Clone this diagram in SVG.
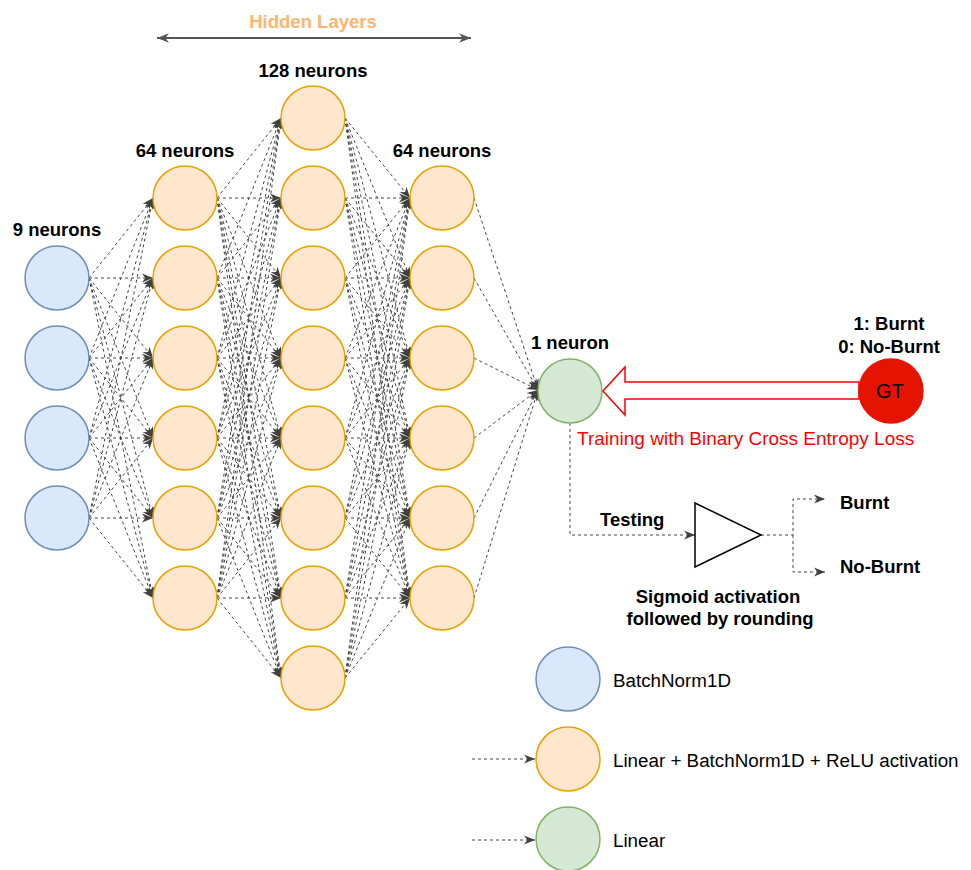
<svg xmlns="http://www.w3.org/2000/svg" width="971" height="870" viewBox="0 0 971 870">
<style>
text{font-family:"Liberation Sans",Arial,sans-serif;fill:#000}
.b{font-weight:bold;font-size:18.5px}
.n{font-size:18.8px}
.m{text-anchor:middle}
.blue{fill:#dae8fc;stroke:#6c8ebf;stroke-width:1.5}
.org{fill:#ffe6cc;stroke:#e8a200;stroke-width:1.5}
.grn{fill:#d5e8d4;stroke:#82b366;stroke-width:1.5}
.c path{fill:none;stroke:#444;stroke-width:1;stroke-dasharray:3 3;marker-end:url(#ah)}
</style>
<defs>
<marker id="ah" viewBox="0 0 10 10" refX="10" refY="5" markerWidth="11" markerHeight="11" markerUnits="userSpaceOnUse" orient="auto">
<path d="M0,1 L10,5 L0,9 L3,5 Z" fill="#404040"/>
</marker>
<marker id="ah2" viewBox="0 0 10 10" refX="10" refY="5" markerWidth="12" markerHeight="12" markerUnits="userSpaceOnUse" orient="auto-start-reverse">
<path d="M0,1 L10,5 L0,9 L3,5 Z" fill="#555"/>
</marker>
</defs>
<rect width="971" height="870" fill="#fff"/>

<g id="hidden-label">
<text class="b m" x="313" y="28" style="fill:#ffb570">Hidden Layers</text>
<line x1="157" y1="38" x2="471" y2="38" stroke="#555" stroke-width="2" marker-start="url(#ah2)" marker-end="url(#ah2)"/>
</g>

<g id="connectors" class="c">
<path d="M89 278L153 198"/><path d="M89 278L153 278"/><path d="M89 278L153 358"/><path d="M89 278L153 438"/><path d="M89 278L153 518"/><path d="M89 278L153 598"/>
<path d="M89 358L153 198"/><path d="M89 358L153 278"/><path d="M89 358L153 358"/><path d="M89 358L153 438"/><path d="M89 358L153 518"/><path d="M89 358L153 598"/>
<path d="M89 438L153 198"/><path d="M89 438L153 278"/><path d="M89 438L153 358"/><path d="M89 438L153 438"/><path d="M89 438L153 518"/><path d="M89 438L153 598"/>
<path d="M89 518L153 198"/><path d="M89 518L153 278"/><path d="M89 518L153 358"/><path d="M89 518L153 438"/><path d="M89 518L153 518"/><path d="M89 518L153 598"/>

<path d="M217 198L281 118"/><path d="M217 198L281 198"/><path d="M217 198L281 278"/><path d="M217 198L281 358"/><path d="M217 198L281 438"/><path d="M217 198L281 518"/><path d="M217 198L281 598"/><path d="M217 198L281 678"/>
<path d="M217 278L281 118"/><path d="M217 278L281 198"/><path d="M217 278L281 278"/><path d="M217 278L281 358"/><path d="M217 278L281 438"/><path d="M217 278L281 518"/><path d="M217 278L281 598"/><path d="M217 278L281 678"/>
<path d="M217 358L281 118"/><path d="M217 358L281 198"/><path d="M217 358L281 278"/><path d="M217 358L281 358"/><path d="M217 358L281 438"/><path d="M217 358L281 518"/><path d="M217 358L281 598"/><path d="M217 358L281 678"/>
<path d="M217 438L281 118"/><path d="M217 438L281 198"/><path d="M217 438L281 278"/><path d="M217 438L281 358"/><path d="M217 438L281 438"/><path d="M217 438L281 518"/><path d="M217 438L281 598"/><path d="M217 438L281 678"/>
<path d="M217 518L281 118"/><path d="M217 518L281 198"/><path d="M217 518L281 278"/><path d="M217 518L281 358"/><path d="M217 518L281 438"/><path d="M217 518L281 518"/><path d="M217 518L281 598"/><path d="M217 518L281 678"/>
<path d="M217 598L281 118"/><path d="M217 598L281 198"/><path d="M217 598L281 278"/><path d="M217 598L281 358"/><path d="M217 598L281 438"/><path d="M217 598L281 518"/><path d="M217 598L281 598"/><path d="M217 598L281 678"/>

<path d="M345 118L410 198"/><path d="M345 118L410 278"/><path d="M345 118L410 358"/><path d="M345 118L410 438"/><path d="M345 118L410 518"/><path d="M345 118L410 598"/>
<path d="M345 198L410 198"/><path d="M345 198L410 278"/><path d="M345 198L410 358"/><path d="M345 198L410 438"/><path d="M345 198L410 518"/><path d="M345 198L410 598"/>
<path d="M345 278L410 198"/><path d="M345 278L410 278"/><path d="M345 278L410 358"/><path d="M345 278L410 438"/><path d="M345 278L410 518"/><path d="M345 278L410 598"/>
<path d="M345 358L410 198"/><path d="M345 358L410 278"/><path d="M345 358L410 358"/><path d="M345 358L410 438"/><path d="M345 358L410 518"/><path d="M345 358L410 598"/>
<path d="M345 438L410 198"/><path d="M345 438L410 278"/><path d="M345 438L410 358"/><path d="M345 438L410 438"/><path d="M345 438L410 518"/><path d="M345 438L410 598"/>
<path d="M345 518L410 198"/><path d="M345 518L410 278"/><path d="M345 518L410 358"/><path d="M345 518L410 438"/><path d="M345 518L410 518"/><path d="M345 518L410 598"/>
<path d="M345 598L410 198"/><path d="M345 598L410 278"/><path d="M345 598L410 358"/><path d="M345 598L410 438"/><path d="M345 598L410 518"/><path d="M345 598L410 598"/>
<path d="M345 678L410 198"/><path d="M345 678L410 278"/><path d="M345 678L410 358"/><path d="M345 678L410 438"/><path d="M345 678L410 518"/><path d="M345 678L410 598"/>

<path d="M474 198L538 390"/><path d="M474 278L538 390"/><path d="M474 358L538 390"/><path d="M474 438L538 390"/><path d="M474 518L538 390"/><path d="M474 598L538 390"/>

<path d="M570 423V535H695"/>
<path d="M761 535H793V499H825" />
<path d="M793 535V572H825"/>
<path d="M472 759H535"/>
<path d="M472 840H535"/>
</g>

<g id="labels">
<text class="b m" x="57" y="236">9 neurons</text>
<text class="b m" x="185" y="157">64 neurons</text>
<text class="b m" x="313" y="77">128 neurons</text>
<text class="b m" x="442" y="157">64 neurons</text>
<text class="b m" x="570" y="349">1 neuron</text>
</g>

<g id="input-layer">
<circle id="in1" class="blue" cx="57" cy="278" r="32"/>
<circle id="in2" class="blue" cx="57" cy="358" r="32"/>
<circle id="in3" class="blue" cx="57" cy="438" r="32"/>
<circle id="in4" class="blue" cx="57" cy="518" r="32"/>
</g>
<g id="hidden1">
<circle class="org" cx="185" cy="198" r="32"/>
<circle class="org" cx="185" cy="278" r="32"/>
<circle class="org" cx="185" cy="358" r="32"/>
<circle class="org" cx="185" cy="438" r="32"/>
<circle class="org" cx="185" cy="518" r="32"/>
<circle class="org" cx="185" cy="598" r="32"/>
</g>
<g id="hidden2">
<circle class="org" cx="313" cy="118" r="32"/>
<circle class="org" cx="313" cy="198" r="32"/>
<circle class="org" cx="313" cy="278" r="32"/>
<circle class="org" cx="313" cy="358" r="32"/>
<circle class="org" cx="313" cy="438" r="32"/>
<circle class="org" cx="313" cy="518" r="32"/>
<circle class="org" cx="313" cy="598" r="32"/>
<circle class="org" cx="313" cy="678" r="32"/>
</g>
<g id="hidden3">
<circle class="org" cx="442" cy="198" r="32"/>
<circle class="org" cx="442" cy="278" r="32"/>
<circle class="org" cx="442" cy="358" r="32"/>
<circle class="org" cx="442" cy="438" r="32"/>
<circle class="org" cx="442" cy="518" r="32"/>
<circle class="org" cx="442" cy="598" r="32"/>
</g>
<g id="output">
<circle class="grn" cx="570" cy="391" r="32"/>
</g>

<g id="training-arrow">
<path d="M859 382H625V367L603 391L625 415V399H859Z" fill="#fff" stroke="#ff0000" stroke-width="1.5" stroke-linejoin="miter"/>
</g>
<g id="gt">
<circle cx="891" cy="391" r="32" fill="#e51400" stroke="#e51400" stroke-width="1.5"/>
<text class="m" x="890" y="398" style="font-size:20px">GT</text>
<text class="b m" x="889" y="330">1: Burnt</text>
<text class="b m" x="889" y="353">0: No-Burnt</text>
</g>
<text id="training-label" x="577" y="445" style="font-size:19px;fill:#ff0000">Training with Binary Cross Entropy Loss</text>

<g id="sigmoid">
<polygon points="695,503 695,567 761,535" fill="#fff" stroke="#000" stroke-width="1.5"/>
<text class="b m" x="718" y="603">Sigmoid activation</text>
<text class="b m" x="720" y="625">followed by rounding</text>
</g>
<text class="b" x="600" y="526">Testing</text>
<text class="b" x="840" y="509">Burnt</text>
<text class="b" x="840" y="573">No-Burnt</text>

<g id="legend">
<circle class="blue" cx="568" cy="679" r="32"/>
<text class="n" x="613" y="687">BatchNorm1D</text>
<circle class="org" cx="568" cy="759" r="32"/>
<text class="n" x="613" y="767">Linear + BatchNorm1D + ReLU activation</text>
<circle class="grn" cx="568" cy="839" r="32"/>
<text class="n" x="613" y="847">Linear</text>
</g>
</svg>
